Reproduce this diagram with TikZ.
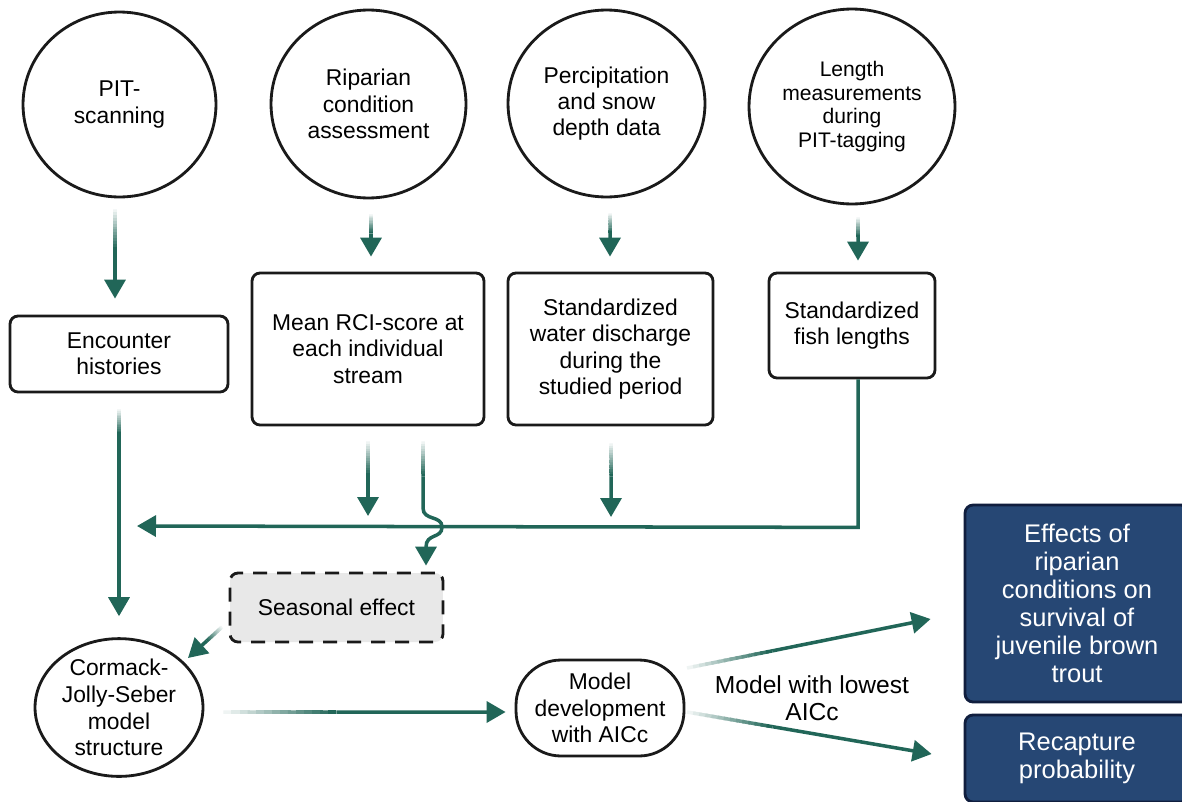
\documentclass[tikz,border=0pt]{standalone}
\usepackage{fontspec}
\setmainfont{Liberation Sans}
\usetikzlibrary{shapes.geometric,arrows.meta,calc}
\definecolor{cteal}{RGB}{33,102,88}
\definecolor{outl}{RGB}{26,26,26}
\definecolor{navy}{RGB}{38,71,116}
\definecolor{navyb}{RGB}{16,30,62}
\definecolor{sgray}{RGB}{232,232,232}
\tikzset{
  txt/.style={font=\fontsize{13}{15}\selectfont, align=center},
  circ/.style={ellipse, draw=outl, line width=1.6pt, inner sep=0pt, txt},
  box/.style={rectangle, rounded corners=0.16cm, draw=outl, line width=1.6pt, inner sep=0pt, txt},
  oval/.style={rectangle, rounded corners=0.9cm, draw=outl, line width=1.6pt, inner sep=0pt, txt},
  dashbox/.style={box, fill=sgray, dash pattern=on 0.28cm off 0.2cm},
  result/.style={rectangle, rounded corners=0.16cm, draw=navyb, fill=navy, line width=1.6pt, inner sep=0pt,
    text=white, align=center, font=\fontsize{14.5}{16}\selectfont},
  conn/.style={line width=2pt, draw=cteal, line cap=butt},
  tip/.style={-{Triangle[length=0.38cm,width=0.42cm]}},
}
% faded start only (no tip)
\newcommand\fadeseg[3]{%
  \foreach \k in {1,...,14}{%
    \pgfmathsetmacro\fa{(\k-1)/14*#3}%
    \pgfmathsetmacro\fb{min(\k/14*#3+0.01,#3)}%
    \pgfmathtruncatemacro\fc{\k*100/14}%
    \draw[conn, draw=cteal!\fc!white] ($(#1)!\fa!(#2)$) -- ($(#1)!\fb!(#2)$);%
  }%
}
% faded start plus solid end with arrow tip
\newcommand\fadeconn[3]{%
  \fadeseg{#1}{#2}{#3}%
  \draw[conn, tip] ($(#1)!#3!(#2)$) -- (#2);%
}
\begin{document}
\begin{tikzpicture}[x=0.02cm, y=-0.02cm]
\clip (0,0) rectangle (1182,801);
\fill[white] (0,0) rectangle (1182,801);

% top circles
\node[circ, minimum width=3.86cm, minimum height=3.7cm] (pit) at (119.5,104.5) {PIT-\\scanning};
\node[circ, minimum width=3.9cm, minimum height=3.76cm] (rip) at (368.5,104) {Riparian\\condition\\assessment};
\node[circ, minimum width=3.94cm, minimum height=3.74cm] (pre) at (606.5,103.5) {Percipitation\\and snow\\depth data};
\node[circ, minimum width=4.12cm, minimum height=3.9cm, font=\fontsize{12}{13.6}\selectfont] (len) at (852,106.5) {Length\\measurements\\during\\PIT-tagging};

% boxes
\node[box, minimum width=4.36cm, minimum height=1.52cm] (enc) at (119,354) {Encounter\\histories};
\node[box, minimum width=4.64cm, minimum height=3.04cm] (rci) at (368,349) {Mean RCI-score at\\each individual\\stream};
\node[box, minimum width=4.1cm, minimum height=3.04cm] (wat) at (610.5,349) {Standardized\\water discharge\\during the\\studied period};
\node[box, minimum width=3.32cm, minimum height=2.1cm] (fish) at (852,325.5) {Standardized\\fish lengths};

\node[dashbox, minimum width=4.26cm, minimum height=1.38cm] (sea) at (336.5,607.5) {Seasonal effect};
\node[circ, minimum width=3.36cm, minimum height=2.58cm, font=\fontsize{13}{15.3}\selectfont] (cjs) at (119,707.5) {Cormack-\\Jolly-Seber\\model\\structure};
\node[oval, minimum width=3.36cm, minimum height=1.92cm] (mod) at (600,708) {Model\\development\\with AICc};

\node[result, minimum width=4.48cm, minimum height=3.94cm] (eff) at (1077,603.5) {Effects of\\riparian\\conditions on\\survival of\\juvenile brown\\trout};
\node[result, minimum width=4.48cm, minimum height=1.74cm] (rec) at (1077,758.5) {Recapture\\probability};

\node[align=center, font=\fontsize{14}{15.3}\selectfont] (lbl) at (812,698) {Model with lowest\\AICc};

% connectors: circles to boxes
\coordinate (a1) at ($(pit.south)+(-4.5,11)$);  \coordinate (b1) at ($(enc.north)+(-4,-16)$);
\fadeconn{a1}{b1}{0.45}
\coordinate (a2) at ($(rip.south)+(2.5,15)$);   \coordinate (b2) at ($(rci.north)+(3,-15)$);
\fadeconn{a2}{b2}{0.45}
\coordinate (a3) at ($(pre.south)+(3.5,15)$);   \coordinate (b3) at ($(wat.north)+(-0.5,-15)$);
\fadeconn{a3}{b3}{0.45}
\coordinate (a4) at ($(len.south)+(6,12)$);     \coordinate (b4) at ($(fish.north)+(6,-11)$);
\fadeconn{a4}{b4}{0.45}

% merge line
\coordinate (hR) at ($(fish.south)+(6,148)$);
\coordinate (hL) at (137,526);
\draw[conn, line join=miter, tip] ($(fish.south)+(6,0)$) -- (hR) -- (hL);

\coordinate (a5) at ($(rci.south)+(0,15)$);     \coordinate (b5) at (368,516);
\fadeconn{a5}{b5}{0.45}
\coordinate (a6) at ($(wat.south)+(0.5,17)$);   \coordinate (b6) at (611,517);
\fadeconn{a6}{b6}{0.45}

% encounter to CJS
\coordinate (a7) at ($(enc.south)+(0,16)$);     \coordinate (b7) at ($(cjs.north)+(0,-21)$);
\fadeconn{a7}{b7}{0.12}

% bridge connector RCI -> seasonal
\coordinate (a8) at ($(rci.south)+(55,15)$);
\coordinate (m8) at ($(rci.south)+(55,50)$);
\coordinate (b8) at ($(sea.north)+(89.5,-6)$);
\fadeseg{a8}{m8}{1}
\draw[conn, tip] (m8) -- (423,508) .. controls (423,521) and (442,515) .. (442,527)
  .. controls (442,539) and (426,533) .. (426,547) -- (b8);

% seasonal -> CJS
\coordinate (a9) at (222,627); \coordinate (b9) at (188,658);
\fadeconn{a9}{b9}{0.45}

% CJS -> model
\coordinate (a10) at ($(cjs.east)+(19,4.5)$); \coordinate (b10) at ($(mod.west)+(-9,4)$);
\fadeconn{a10}{b10}{0.4}

% model -> results
\coordinate (a11) at (687,668); \coordinate (b11) at ($(eff.west)+(-33,15.5)$);
\fadeconn{a11}{b11}{0.35}
\coordinate (a12) at (687,712); \coordinate (b12) at ($(rec.west)+(-32,-4.5)$);
\fadeconn{a12}{b12}{0.35}
\end{tikzpicture}
\end{document}
